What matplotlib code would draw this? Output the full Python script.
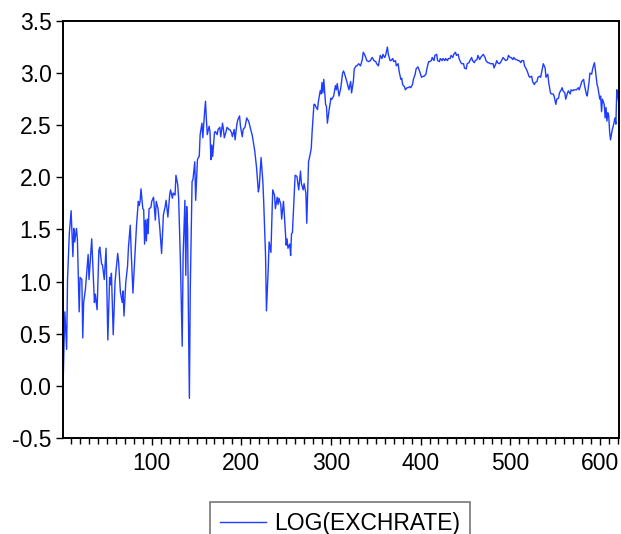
import matplotlib
matplotlib.use("Agg")
import matplotlib.pyplot as plt
from matplotlib.ticker import MultipleLocator

plt.rcParams["font.family"] = ["Liberation Sans", "DejaVu Sans"]

# observation number and log of the exchange rate
obs = [
    1, 3, 5, 6, 8, 10, 12, 13, 14, 16, 17, 19, 20, 22, 23, 24, 26, 29, 30, 33,
    35, 36, 37, 39, 41, 42, 44, 45, 47, 49, 51, 53, 54, 55, 57, 59, 60, 62, 63, 65,
    67, 68, 69, 71, 73, 74, 76, 77, 79, 81, 83, 85, 86, 87, 88, 90, 91, 92, 93, 94,
    95, 96, 97, 99, 100, 102, 104, 105, 107, 109, 111, 113, 115, 116, 118, 120, 121, 123, 124, 126,
    127, 129, 130, 132, 134, 135, 137, 138, 139, 140, 141, 142, 143, 145, 146, 148, 149, 151, 152, 153,
    154, 156, 157, 159, 160, 161, 162, 164, 165, 166, 167, 168, 170, 171, 173, 174, 176, 177, 179, 180,
    181, 183, 184, 186, 187, 189, 190, 192, 193, 195, 196, 198, 199, 201, 202, 204, 206, 208, 209, 211,
    212, 213, 215, 217, 219, 220, 222, 224, 225, 227, 228, 230, 231, 233, 235, 237, 238, 240, 241, 242,
    244, 245, 247, 248, 250, 251, 252, 254, 255, 256, 257, 259, 260, 262, 264, 266, 267, 269, 270, 272,
    273, 275, 277, 278, 279, 281, 282, 283, 285, 286, 288, 289, 290, 291, 292, 294, 295, 296, 298, 300,
    301, 303, 305, 306, 307, 309, 311, 313, 314, 315, 317, 318, 320, 322, 323, 325, 326, 328, 329, 331,
    333, 335, 336, 338, 340, 342, 344, 346, 348, 350, 351, 353, 355, 357, 358, 360, 361, 363, 364, 366,
    367, 369, 370, 372, 373, 375, 376, 378, 379, 380, 382, 383, 385, 386, 388, 389, 391, 392, 394, 395,
    397, 398, 400, 401, 403, 404, 406, 407, 409, 410, 412, 413, 415, 416, 418, 419, 421, 422, 424, 425,
    427, 428, 430, 431, 433, 434, 436, 437, 439, 440, 442, 443, 445, 446, 448, 449, 451, 452, 454, 455,
    457, 458, 460, 461, 463, 464, 466, 467, 469, 470, 472, 473, 475, 476, 478, 479, 481, 482, 484, 485,
    486, 488, 489, 491, 492, 494, 495, 497, 498, 500, 501, 503, 504, 506, 507, 509, 510, 512, 513, 515,
    516, 518, 519, 521, 522, 524, 525, 527, 528, 530, 531, 533, 534, 536, 537, 539, 540, 542, 543, 545,
    546, 548, 549, 551, 552, 554, 555, 557, 558, 559, 561, 562, 564, 565, 567, 568, 570, 571, 573, 574,
    576, 577, 579, 580, 582, 583, 585, 586, 588, 589, 591, 592, 594, 595, 597, 598, 600, 601, 602, 603,
    605, 606, 607, 608, 609, 610, 611, 612, 614, 615, 617, 618, 619, 620, 621,
]
log_exchrate = [
    -0.01, 0.71, 0.35, 1.02, 1.46, 1.68, 1.24, 1.51, 1.38, 1.51, 1.41, 0.71, 1.04, 1.02, 0.46, 0.80, 0.93, 1.26, 1.02, 1.41,
    1.00, 0.80, 0.88, 0.73, 1.30, 1.33, 1.17, 1.16, 1.02, 1.32, 0.44, 1.04, 0.97, 1.08, 0.49, 0.99, 1.09, 1.27, 1.19, 0.90,
    0.80, 0.91, 0.67, 0.99, 1.15, 1.33, 1.54, 1.30, 0.89, 1.22, 1.54, 1.77, 1.73, 1.77, 1.89, 1.70, 1.69, 1.36, 1.59, 1.39,
    1.60, 1.46, 1.70, 1.71, 1.77, 1.81, 1.59, 1.77, 1.70, 1.51, 1.27, 1.64, 1.72, 1.78, 1.62, 1.83, 1.88, 1.80, 1.85, 1.83,
    2.02, 1.93, 1.80, 1.19, 0.38, 1.25, 1.78, 1.06, 1.72, 1.51, 0.61, -0.12, 0.93, 1.96, 1.98, 2.15, 1.78, 2.17, 2.19, 2.20,
    2.41, 2.52, 2.38, 2.63, 2.73, 2.55, 2.41, 2.49, 2.44, 2.17, 2.31, 2.20, 2.43, 2.44, 2.41, 2.46, 2.48, 2.39, 2.52, 2.46,
    2.38, 2.44, 2.48, 2.46, 2.46, 2.43, 2.39, 2.46, 2.36, 2.51, 2.55, 2.59, 2.49, 2.39, 2.46, 2.48, 2.57, 2.54, 2.51, 2.44,
    2.41, 2.36, 2.25, 2.09, 1.86, 1.91, 2.19, 1.96, 1.75, 1.25, 0.72, 1.12, 1.38, 1.28, 1.88, 1.83, 1.70, 1.81, 1.74, 1.80,
    1.74, 1.60, 1.77, 1.64, 1.35, 1.41, 1.32, 1.36, 1.25, 1.46, 1.47, 1.83, 2.02, 2.01, 1.88, 2.06, 1.94, 1.88, 1.94, 1.85,
    1.56, 2.15, 2.23, 2.28, 2.44, 2.70, 2.70, 2.68, 2.65, 2.73, 2.83, 2.80, 2.91, 2.81, 2.94, 2.70, 2.68, 2.52, 2.65, 2.76,
    2.75, 2.78, 2.88, 2.84, 2.90, 2.78, 2.86, 3.00, 3.02, 3.00, 2.94, 2.91, 2.84, 2.92, 2.81, 2.92, 3.04, 3.07, 3.07, 3.09,
    3.07, 3.13, 3.20, 3.17, 3.12, 3.11, 3.12, 3.15, 3.12, 3.11, 3.09, 3.07, 3.17, 3.14, 3.18, 3.15, 3.17, 3.25, 3.18, 3.12,
    3.12, 3.14, 3.11, 3.12, 3.07, 3.09, 3.02, 2.94, 2.95, 2.89, 2.87, 2.84, 2.86, 2.86, 2.87, 2.86, 2.89, 2.94, 2.99, 3.04,
    3.06, 3.04, 2.99, 2.96, 2.97, 2.97, 2.99, 3.04, 3.11, 3.11, 3.12, 3.15, 3.12, 3.17, 3.18, 3.12, 3.11, 3.14, 3.12, 3.14,
    3.12, 3.14, 3.12, 3.14, 3.14, 3.17, 3.15, 3.18, 3.20, 3.17, 3.18, 3.14, 3.10, 3.09, 3.09, 3.05, 3.04, 3.09, 3.10, 3.12,
    3.15, 3.12, 3.10, 3.12, 3.13, 3.17, 3.13, 3.15, 3.17, 3.18, 3.15, 3.12, 3.10, 3.10, 3.09, 3.09, 3.09, 3.05, 3.09, 3.12,
    3.10, 3.09, 3.10, 3.13, 3.15, 3.13, 3.12, 3.13, 3.17, 3.15, 3.15, 3.13, 3.15, 3.13, 3.13, 3.12, 3.12, 3.10, 3.12, 3.12,
    3.07, 3.04, 3.02, 2.97, 2.96, 2.97, 2.92, 2.89, 2.91, 2.92, 2.96, 2.97, 2.96, 3.05, 3.09, 3.05, 2.96, 2.99, 2.91, 2.81,
    2.80, 2.80, 2.78, 2.70, 2.75, 2.76, 2.81, 2.84, 2.86, 2.83, 2.81, 2.75, 2.81, 2.83, 2.80, 2.84, 2.83, 2.84, 2.84, 2.84,
    2.86, 2.84, 2.89, 2.92, 2.94, 2.88, 2.80, 2.78, 2.91, 3.00, 2.99, 3.04, 3.10, 3.04, 2.89, 2.86, 2.75, 2.78, 2.63, 2.75,
    2.70, 2.57, 2.67, 2.54, 2.62, 2.59, 2.44, 2.36, 2.46, 2.49, 2.57, 2.51, 2.84, 2.79, 2.73,
]

y_ticks = [-0.5, 0.0, 0.5, 1.0, 1.5, 2.0, 2.5, 3.0, 3.5]
x_ticks = [100, 200, 300, 400, 500, 600]
series_label = "LOG(EXCHRATE)"

fig = plt.figure(figsize=(6.21, 5.34), dpi=100)
ax = fig.add_axes([0.1008, 0.1798, 0.8953, 0.7809])

line, = ax.plot(obs, log_exchrate, color="#1f3dff", linewidth=1.0, label=series_label)

ax.set_xlim(0.5, 621)
ax.set_ylim(-0.5, 3.5)
ax.set_yticks(y_ticks)
ax.set_yticklabels([f"{t:.1f}" for t in y_ticks])
ax.set_xticks(x_ticks)
ax.xaxis.set_minor_locator(MultipleLocator(10))

ax.tick_params(axis="both", which="major", direction="out", length=5, width=1,
               labelsize=16.5, colors="black")
ax.tick_params(axis="x", which="minor", direction="out", length=4, width=1)
ax.tick_params(axis="x", which="major", pad=5)
ax.tick_params(axis="y", which="major", pad=3)
ax.tick_params(top=False, right=False)

for side in ["left", "bottom", "right", "top"]:
    ax.spines[side].set_linewidth(1.4)
    ax.spines[side].set_color("black")

# legend box sits under the plot, centred on the data area
leg = fig.legend(handles=[line], loc="upper center",
                 bbox_to_anchor=(340 / 621, 1 - 502 / 534), fontsize=16.5,
                 frameon=True, fancybox=False, edgecolor="#555555",
                 handlelength=2.0, handletextpad=0.35, borderpad=0.45,
                 borderaxespad=0)
leg.get_frame().set_linewidth(1.2)

fig.savefig("out.png", dpi=100)
